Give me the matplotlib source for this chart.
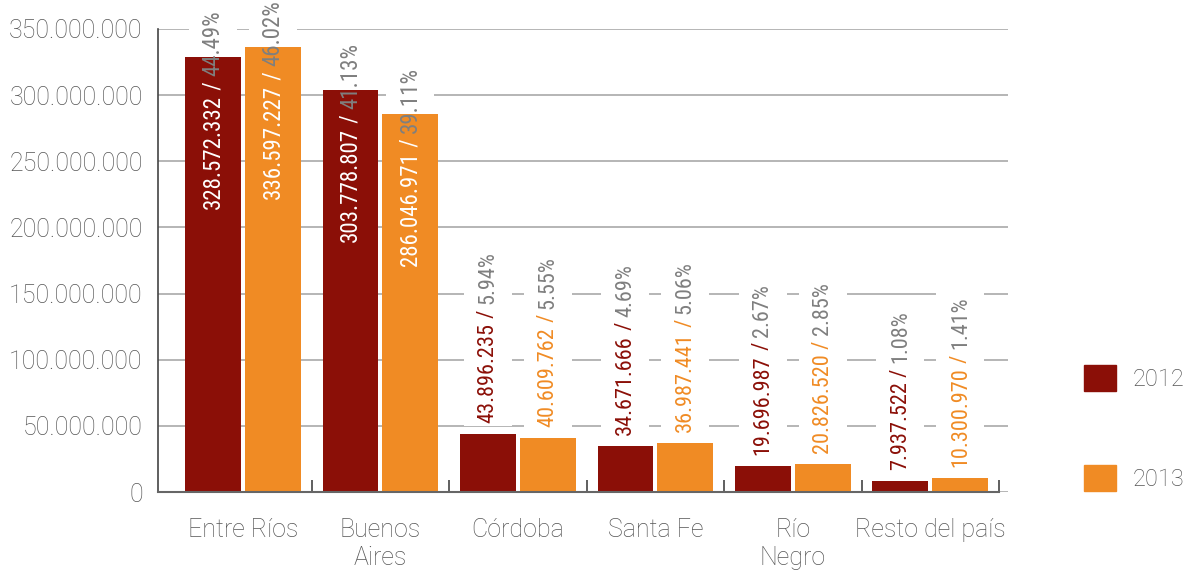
import matplotlib
matplotlib.use("Agg")
import matplotlib.pyplot as plt
import matplotlib.transforms as mtransforms
from matplotlib.patches import Rectangle, Patch
from matplotlib.ticker import FuncFormatter, FixedLocator
import numpy as np

categorias = ["Entre Ríos", "Buenos\nAires", "Córdoba", "Santa Fe", "Río\nNegro", "Resto del país"]
valores_2012 = [328572332, 303778807, 43896235, 34671666, 19696987, 7937522]
valores_2013 = [336597227, 286046971, 40609762, 36987441, 20826520, 10300970]
pct_2012 = ["44.49%", "41.13%", "5.94%", "4.69%", "2.67%", "1.08%"]
pct_2013 = ["46.02%", "39.11%", "5.55%", "5.06%", "2.85%", "1.41%"]

ROJO = "#8b0f07"
NARANJA = "#f08b24"
GRIS = "#7f7f7f"
TXT = "#555555"
NARROW = ["Roboto Condensed", "Liberation Sans Narrow", "Roboto", "DejaVu Sans"]

plt.rcParams["font.family"] = ["Roboto", "DejaVu Sans"]

fig = plt.figure(figsize=(11.92, 5.71), dpi=100)
ax = fig.add_axes([158 / 1192, 1 - 492 / 571, (1008 - 158) / 1192, (492 - 29) / 571])

x = np.arange(len(categorias))
ancho = 0.407
off = 0.218
ax.bar(x - off, valores_2012, ancho, color=ROJO, zorder=2, label="2012")
ax.bar(x + off, valores_2013, ancho, color=NARANJA, zorder=2, label="2013")

ax.set_xlim(-0.618, 5.564)
ax.set_ylim(0, 350000000)
ax.set_yticks(np.arange(0, 350000001, 50000000))
ax.yaxis.set_major_formatter(FuncFormatter(lambda v, p: f"{int(v):,}".replace(",", ".")))
ax.tick_params(axis="y", length=0, pad=11, labelsize=18, labelcolor=TXT)
ax.grid(axis="y", color="#b5b5b5", lw=1.4, zorder=0.5)
ax.set_axisbelow(True)

ax.set_xticks(x)
ax.set_xticklabels(categorias, fontsize=18, color=TXT, linespacing=1.2)
ax.tick_params(axis="x", which="major", length=0, pad=19)
ax.xaxis.set_minor_locator(FixedLocator(np.arange(0.5, 6, 1)))
ax.tick_params(axis="x", which="minor", direction="in", length=9, width=1.2, color="#444444")
for lab in ax.get_yticklabels() + ax.get_xticklabels():
    lab.set_fontweight("light")

for s in ["top", "right"]:
    ax.spines[s].set_visible(False)
ax.spines["left"].set_color("#444444")
ax.spines["bottom"].set_color("#666666")
ax.spines["left"].set_linewidth(1.2)
ax.spines["bottom"].set_linewidth(1.5)
ax.spines["bottom"].set_bounds(-0.618, 5.5)

etiquetas = []


def etiqueta(xc, valor, pct, color):
    num = f"{valor:,}".replace(",", ".")
    kw = dict(rotation=90, ha="center", va="bottom", family=NARROW,
              zorder=3, annotation_clip=False)
    if valor > 100000000:
        c_num = "white"
        kw["fontsize"] = 16.5
        t1 = ax.annotate(num, (xc, valor - 115000000), color=c_num, **kw)
    else:
        c_num = color
        kw["fontsize"] = 16
        t1 = ax.annotate(num, (xc, valor), xytext=(0, 8), textcoords="offset points",
                         color=c_num, **kw)
    t2 = ax.annotate(" / ", (0.5, 1), xycoords=t1, color=c_num, **kw)
    t3 = ax.annotate(pct, (0.5, 1), xycoords=t2, color=GRIS, **kw)
    etiquetas.append((t1, t2, t3))


for i in range(len(categorias)):
    etiqueta(x[i] - off, valores_2012[i], pct_2012[i], ROJO)
    etiqueta(x[i] + off, valores_2013[i], pct_2013[i], NARANJA)

leg = fig.legend(handles=[Patch(color=ROJO, label="2012"), Patch(color=NARANJA, label="2013")],
                 loc="center left", bbox_to_anchor=(1063 / 1192, 1 - 428 / 571), frameon=False,
                 prop={"size": 17, "weight": "light"}, labelcolor=TXT, handlelength=1.35,
                 handleheight=1.35, labelspacing=3.1, handletextpad=0.7)

# fondo blanco tras las etiquetas para cortar la grilla
fig.canvas.draw()
r = fig.canvas.get_renderer()
for partes in etiquetas:
    bbs = [p.get_window_extent(r) for p in partes]
    x0 = min(b.x0 for b in bbs)
    x1 = max(b.x1 for b in bbs)
    y0 = min(b.y0 for b in bbs)
    y1 = max(b.y1 for b in bbs)
    xm = (x0 + x1) / 2
    fondo = Rectangle((xm - 24, y0 - 3), 48, y1 - y0 + 6,
                      transform=mtransforms.IdentityTransform(),
                      facecolor="white", edgecolor="none", zorder=1, clip_on=False)
    ax.add_artist(fondo)

fig.savefig("out.png", dpi=100)
